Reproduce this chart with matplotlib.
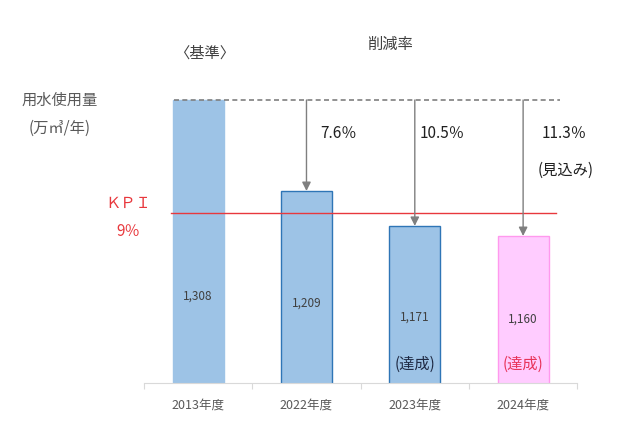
import matplotlib
matplotlib.use("Agg")
import matplotlib.pyplot as plt

plt.rcParams['font.family'] = ['Noto Sans CJK JP', 'DejaVu Sans']

# data
years = ['2013年度', '2022年度', '2023年度', '2024年度']
usage = [1308, 1209, 1171, 1160]
value_labels = ['1,308', '1,209', '1,171', '1,160']
cut_rates = ['7.6％', '10.5％', '11.3％']
kpi_value = 1185
label_y = [1094, 1087, 1072, 1070]   # where the value labels sit (data units)

fill = ['#9dc3e6', '#9dc3e6', '#9dc3e6', '#ffccff']
edge = ['#9dc3e6', '#2e75b6', '#2e75b6', '#ff99ee']
GREY = '#7f7f7f'
RED = '#e8383d'

fig = plt.figure(figsize=(6.4, 4.34), dpi=100)
ax = fig.add_axes([0.225, 0.1175, 0.677, 0.741])

x = list(range(len(years)))
ax.bar(x, usage, width=0.47, color=fill, edgecolor=edge, linewidth=1, zorder=2)
ax.set_xlim(-0.5, 3.5)
ax.set_ylim(1000, 1350)

# baseline level and arrows down to each year
ax.plot([-0.22, 3.34], [usage[0], usage[0]], color=GREY, lw=1.2,
        ls=(0, (3, 2)), zorder=3)
for i in range(1, 4):
    ax.annotate('', xy=(x[i], usage[i]), xytext=(x[i], usage[0]),
                arrowprops=dict(arrowstyle='-|>', color=GREY, lw=1,
                                mutation_scale=13, shrinkA=0, shrinkB=0),
                zorder=4)

# KPI line
ax.plot([-0.25, 3.3], [kpi_value, kpi_value], color=RED, lw=1, zorder=3)

for i in x:
    ax.text(x[i], label_y[i], value_labels[i], ha='center', va='center',
            fontsize=8.5, color='#404040', zorder=5)

rate_x = [1.126, 2.04, 3.17]
for i, r in enumerate(cut_rates):
    ax.text(rate_x[i], 1271, r, ha='left', va='center', fontsize=11,
            color='#202020')
ax.text(3.13, 1232, '(見込み)', ha='left', va='center', fontsize=11,
        color='#202020')

ax.text(2, 1020, '(達成)', ha='center', va='center', fontsize=11,
        color='#1f2a44', zorder=5)
ax.text(3, 1020, '(達成)', ha='center', va='center', fontsize=11,
        color='#e8335a', zorder=5)

# axes styling
for s in ['top', 'right', 'left']:
    ax.spines[s].set_visible(False)
ax.spines['bottom'].set_color('#d9d9d9')
ax.set_yticks([])
ax.set_xticks([-0.5, 0.5, 1.5, 2.5, 3.5])
ax.set_xticklabels([])
ax.set_xticks(x, minor=True)
ax.set_xticklabels(years, minor=True, fontsize=9, color='#595959')
ax.tick_params(axis='x', which='major', length=4, color='#d9d9d9')
ax.tick_params(axis='x', which='minor', length=0, pad=11)

# texts outside the plot
fig.text(205 / 640, 1 - 53 / 434, '〈基準〉', ha='center', va='center',
         fontsize=11, color='#404040')
fig.text(390 / 640, 1 - 44 / 434, '削減率', ha='center', va='center',
         fontsize=11, color='#404040')
fig.text(60 / 640, 1 - 100 / 434, '用水使用量', ha='center', va='center',
         fontsize=11, color='#595959')
fig.text(60 / 640, 1 - 128 / 434, '(万㎥/年)', ha='center', va='center',
         fontsize=11, color='#595959')
fig.text(128 / 640, 1 - 203 / 434, 'ＫＰＩ', ha='center', va='center',
         fontsize=11, color=RED)
fig.text(128 / 640, 1 - 231 / 434, '9％', ha='center', va='center',
         fontsize=11, color=RED)

fig.savefig('out.png', dpi=100)
